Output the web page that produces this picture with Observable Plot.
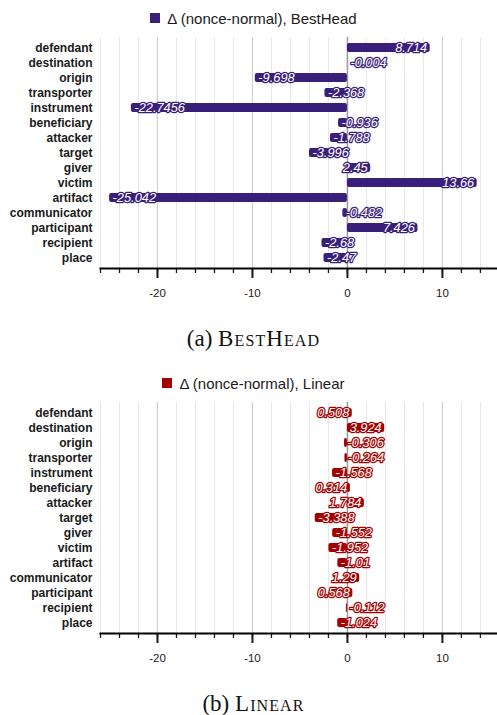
<!DOCTYPE html>
<html><head><meta charset="utf-8">
<script src="https://cdn.jsdelivr.net/npm/d3@7"></script>
<script src="https://cdn.jsdelivr.net/npm/@observablehq/plot@0.6"></script>
<style>
body{margin:0;background:#fff;width:497px;height:715px;overflow:hidden;font-family:"Liberation Sans",Arial,sans-serif;}
.panel{height:365px;position:relative;}
.legend{height:36px;display:flex;align-items:center;justify-content:center;padding-left:10px;box-sizing:border-box;font-size:15px;color:#1a1a1a;}
.sw{width:10px;height:10px;display:inline-block;margin-right:7px;}
.caption{padding-top:13px;line-height:20px;height:20px;text-align:center;padding-left:10px;font-family:"Liberation Serif","Times New Roman",serif;font-size:23px;color:#111;}
.sc{font-variant:small-caps;letter-spacing:1.1px;}
svg{display:block}
</style></head><body>
<div id="p1" class="panel"></div>
<div id="p2" class="panel"></div>
<script>
const roles = ["defendant","destination","origin","transporter","instrument","beneficiary","attacker","target","giver","victim","artifact","communicator","participant","recipient","place"];
const bestHead = [8.714, -0.004, -9.698, -2.368, -22.7456, -0.936, -1.788, -3.996, 2.45, 13.66, -25.042, -0.482, 7.426, -2.68, -2.47];
const linear = [0.508, 3.924, -0.306, -0.264, -1.568, 0.314, 1.784, -3.388, -1.552, -1.952, -1.01, 1.29, 0.568, -0.112, -1.024];
const majorTicks = [-20, -10, 0, 10];
const minorTicks = d3.range(-26, 15, 2);
const xDomain = [-26, 15.8];

function panel(id, values, color, legendText, tag, name) {
  const el = document.getElementById(id);
  const leg = document.createElement("div");
  leg.className = "legend";
  leg.innerHTML = `<span class="sw" style="background:${color}"></span><span>${legendText}</span>`;
  el.appendChild(leg);

  const data = roles.map((r, i) => ({role: r, value: values[i]}));
  const pos = data.filter(d => d.value >= 0);
  const neg = data.filter(d => d.value < 0);
  const lightGrid = minorTicks.filter(v => !majorTicks.includes(v));
  const labelOpts = {
    y: "role", text: d => String(d.value), fill: "white", stroke: color, strokeWidth: 2.5,
    fontStyle: "italic", fontSize: 12.8
  };

  const chart = Plot.plot({
    width: 497, height: 280,
    marginLeft: 100, marginRight: 0, marginTop: 1, marginBottom: 48,
    style: {fontFamily: "'Liberation Sans', Arial, sans-serif", fontSize: "12px", color: "#1a1a1a", background: "transparent"},
    x: {domain: xDomain, label: null},
    y: {domain: roles, padding: 0.4, label: null},
    marks: [
      Plot.ruleX(lightGrid, {stroke: "#e6e6e6", strokeWidth: 1}),
      Plot.ruleX(majorTicks.filter(v => v !== 0), {stroke: "#cfcfcf", strokeWidth: 1.2}),
      Plot.ruleX([0], {stroke: "#9a9a9a", strokeWidth: 1.5}),
      Plot.barX(data, {x: "value", y: "role", fill: color, rx: 2}),
      Plot.text(pos, {...labelOpts, x: "value", textAnchor: "end", dx: -3}),
      Plot.text(neg, {...labelOpts, x: "value", textAnchor: "start", dx: 3}),
      Plot.axisY({tickSize: 0, tickPadding: 8, fontWeight: "bold", fontSize: 12, label: null}),
      Plot.axisX({ticks: minorTicks, tickSize: 5, strokeWidth: 1.3, tickFormat: () => "", label: null}),
      Plot.axisX({ticks: majorTicks, tickSize: 10, strokeWidth: 2, tickPadding: 10, fontSize: 11.5, tickFormat: d => String(d), label: null}),
      Plot.frame({anchor: "bottom", strokeWidth: 2, stroke: "#000"})
    ]
  });
  el.appendChild(chart);

  const cap = document.createElement("div");
  cap.className = "caption";
  cap.innerHTML = `${tag} <span class="sc">${name}</span>`;
  el.appendChild(cap);
}

panel("p1", bestHead, "#3a1f7a", "Δ (nonce-normal), BestHead", "(a)", "BestHead");
panel("p2", linear, "#a50000", "Δ (nonce-normal), Linear", "(b)", "Linear");
</script>
</body></html>
